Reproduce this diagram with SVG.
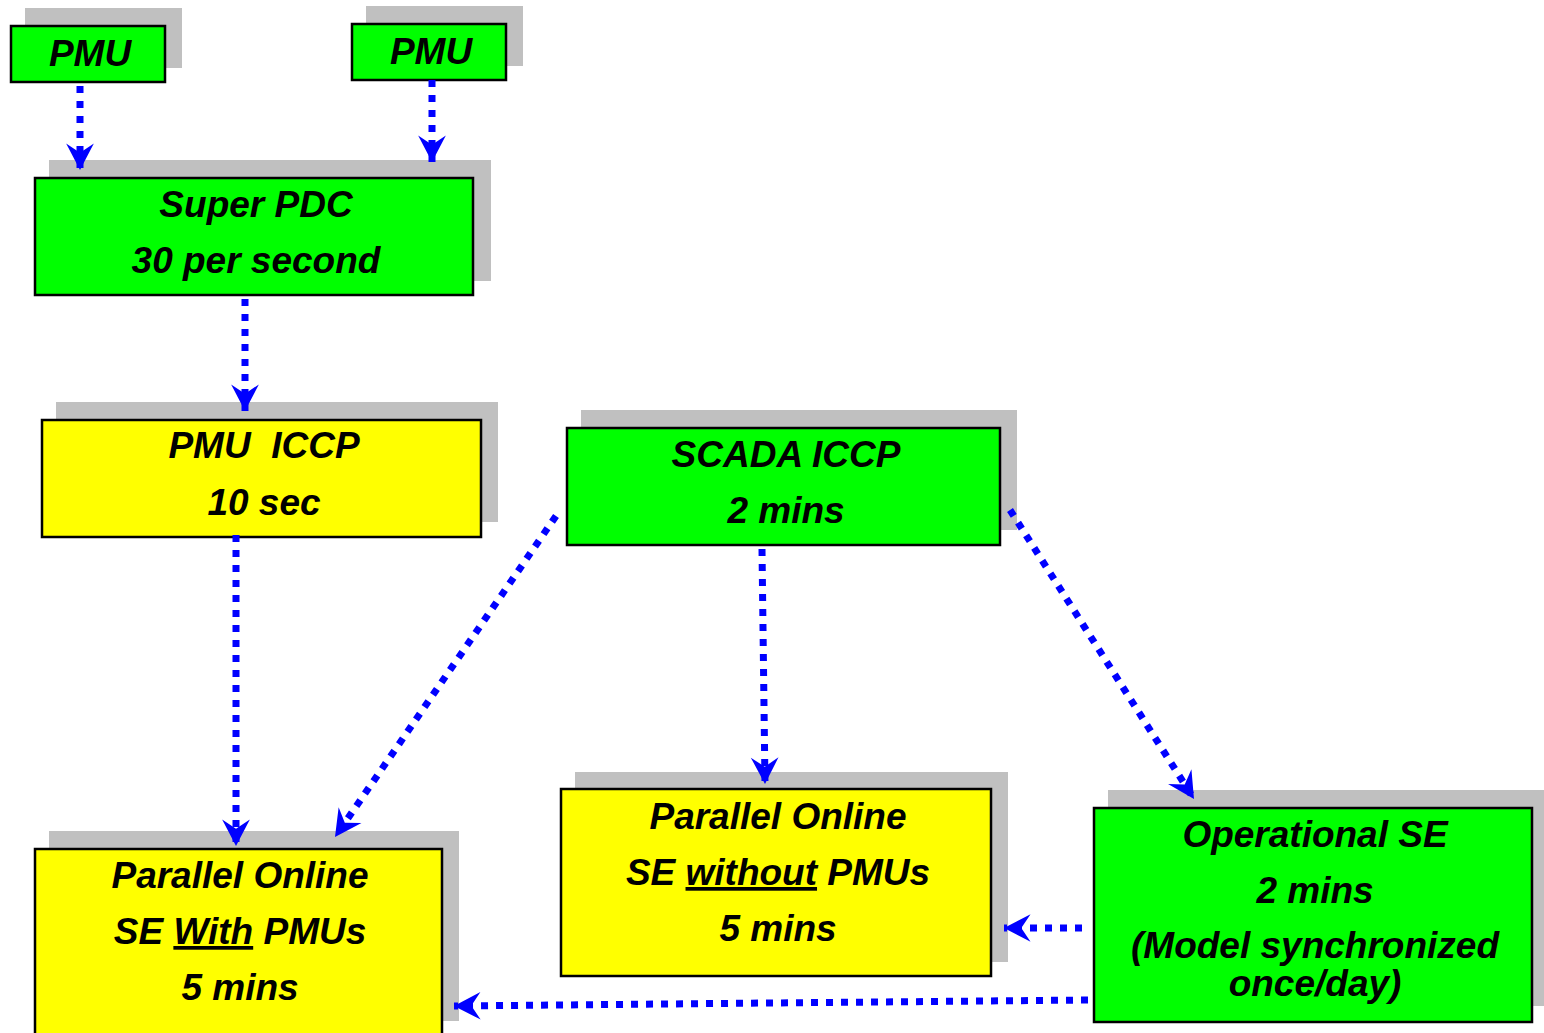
<svg xmlns="http://www.w3.org/2000/svg" width="1544" height="1033" viewBox="0 0 1544 1033">
  <style>
    .shadow { fill: #c0c0c0; }
    .green { fill: #00ff00; stroke: #000; stroke-width: 2.5; }
    .yellow { fill: #ffff00; stroke: #000; stroke-width: 2.5; }
    .label { fill: #000; font-family: "Liberation Sans", Arial, sans-serif; font-weight: bold; font-style: italic; font-size: 37px; text-anchor: middle; }
    .u { text-decoration: underline; }
    .flow { fill: none; stroke: #0000ff; stroke-width: 7; stroke-dasharray: 7 8; marker-end: url(#head); }
  </style>
  <defs>
    <marker id="head" markerUnits="userSpaceOnUse" markerWidth="30" markerHeight="30" viewBox="-24 -13 26 26" refX="0" refY="0" orient="auto">
      <path d="M0,0 L-23,-12 L-15,0 L-23,12 Z" fill="#0000ff"/>
    </marker>
  </defs>

  <rect width="1544" height="1033" fill="#ffffff"/>

  <!-- sources -->
  <g id="pmu-a">
    <rect class="shadow" x="25" y="8" width="157" height="60"/>
    <rect class="green" x="11" y="26" width="154" height="56"/>
    <text class="label" x="90" y="66">PMU</text>
  </g>
  <g id="pmu-b">
    <rect class="shadow" x="366" y="6" width="157" height="60"/>
    <rect class="green" x="352" y="24" width="154" height="56"/>
    <text class="label" x="431" y="64">PMU</text>
  </g>

  <g id="super-pdc">
    <rect class="shadow" x="49" y="160" width="442" height="121"/>
    <rect class="green" x="35" y="178" width="438" height="117"/>
    <text class="label" x="256" y="217">Super PDC</text>
    <text class="label" x="256" y="273">30 per second</text>
  </g>

  <g id="pmu-iccp">
    <rect class="shadow" x="56" y="402" width="442" height="120"/>
    <rect class="yellow" x="42" y="420" width="439" height="117"/>
    <text class="label" x="264" y="458" xml:space="preserve">PMU  ICCP</text>
    <text class="label" x="264" y="515">10 sec</text>
  </g>

  <g id="scada-iccp">
    <rect class="shadow" x="581" y="410" width="436" height="120"/>
    <rect class="green" x="567" y="428" width="433" height="117"/>
    <text class="label" x="786" y="467">SCADA ICCP</text>
    <text class="label" x="786" y="523">2 mins</text>
  </g>

  <!-- state estimators -->
  <g id="se-with-pmu">
    <rect class="shadow" x="49" y="831" width="410" height="190"/>
    <rect class="yellow" x="35" y="849" width="407" height="190"/>
    <text class="label" x="240" y="888">Parallel Online</text>
    <text class="label" x="240" y="944">SE <tspan class="u">With</tspan> PMUs</text>
    <text class="label" x="240" y="1000">5 mins</text>
  </g>

  <g id="se-without-pmu">
    <rect class="shadow" x="575" y="772" width="433" height="190"/>
    <rect class="yellow" x="561" y="789" width="430" height="187"/>
    <text class="label" x="778" y="829">Parallel Online</text>
    <text class="label" x="778" y="885">SE <tspan class="u">without</tspan> PMUs</text>
    <text class="label" x="778" y="941">5 mins</text>
  </g>

  <g id="operational-se">
    <rect class="shadow" x="1108" y="790" width="436" height="216"/>
    <rect class="green" x="1094" y="808" width="438" height="214"/>
    <text class="label" x="1315" y="847">Operational SE</text>
    <text class="label" x="1315" y="903">2 mins</text>
    <text class="label" x="1315" y="958">(Model synchronized</text>
    <text class="label" x="1315" y="996">once/day)</text>
  </g>

  <!-- data flows -->
  <g id="connectors">
    <path class="flow" d="M80,86 L80,170"/>
    <path class="flow" d="M432,80 L432,162"/>
    <path class="flow" d="M245,299 L245,411"/>
    <path class="flow" d="M236,535 L236,846"/>
    <path class="flow" d="M556,516 L335,837"/>
    <path class="flow" d="M762,549 L765,784"/>
    <path class="flow" d="M1010,510 L1194,799"/>
    <path class="flow" d="M1082,928 L1004,928"/>
    <path class="flow" d="M1088,1000 L454,1006"/>
  </g>
</svg>
